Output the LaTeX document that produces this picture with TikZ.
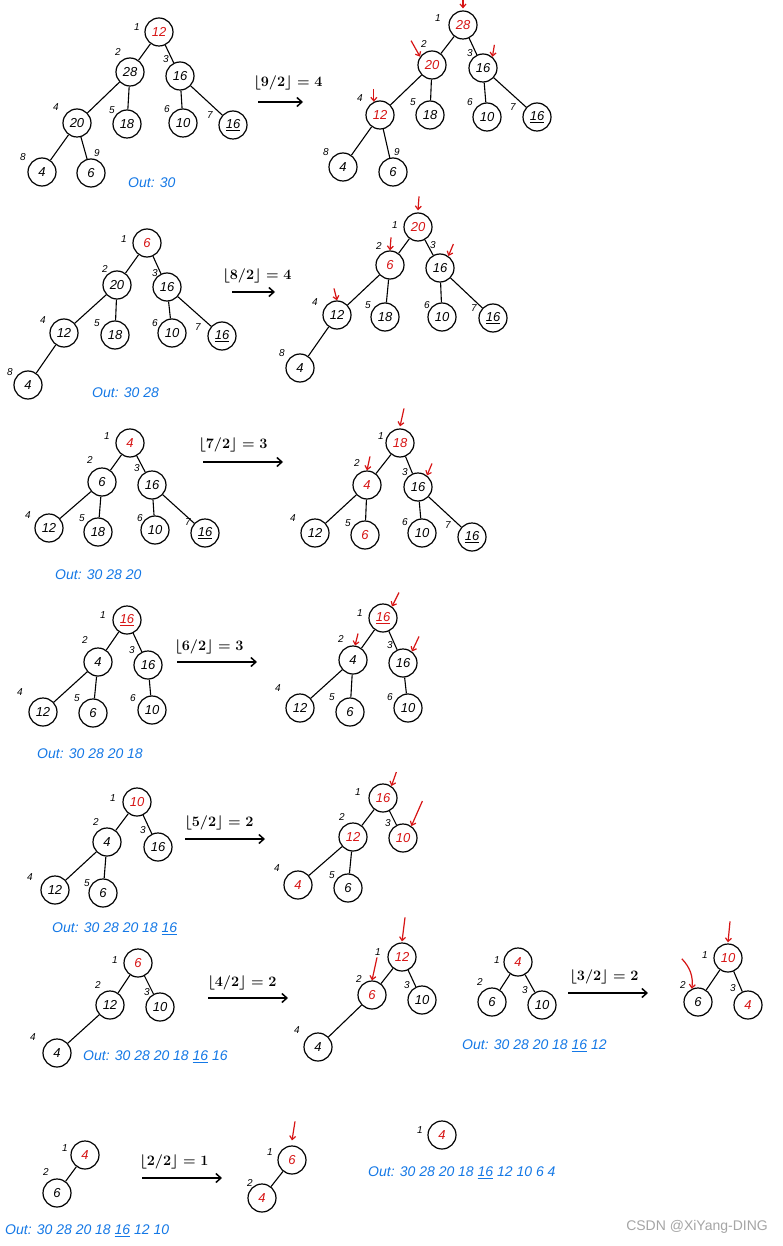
\documentclass[tikz,border=0pt]{standalone}
\usepackage{fontspec}
\setmainfont{Liberation Sans}
\usetikzlibrary{arrows.meta}
\definecolor{hred}{RGB}{215,20,20}
\definecolor{hblue}{RGB}{20,120,230}
\definecolor{wm}{RGB}{165,165,165}
\newcommand{\nfont}{\fontsize{13}{13}\selectfont\itshape}
\newcommand{\ifont}{\fontsize{10}{10}\selectfont\itshape}
\newcommand{\ofont}{\fontsize{14}{14}\selectfont\itshape}
\newcommand{\lfont}{\fontsize{14}{14}\selectfont\boldmath}
\newcommand{\uu}[1]{\underline{#1}}
\tikzset{
  nd/.style={circle, draw, line width=1.2pt, minimum size=28pt, inner sep=0pt, font=\nfont},
  rn/.style={nd, text=hred},
  ix/.style={font=\ifont, inner sep=0pt},
  edge/.style={line width=1.1pt},
  stp/.style={-{Straight Barb[length=5pt,width=9pt]}, line width=1.5pt},
  ra/.style={-{Straight Barb[length=3.5pt,width=6pt]}, hred, line width=1.2pt},
  outt/.style={text=hblue, font=\ofont, anchor=west, inner sep=0pt},
  lbl/.style={font=\lfont, inner sep=0pt}
}
\begin{document}
\begin{tikzpicture}[x=1pt,y=-1pt]
\useasboundingbox (0,0) rectangle (783,1246);
\fill[white] (0,0) rectangle (783,1246);

% ===== Row 1 left =====
\node[rn] (a1) at (159,32) {12};
\node[nd] (a2) at (130,72) {28};
\node[nd] (a3) at (180,76) {16};
\node[nd] (a4) at (77,123) {20};
\node[nd] (a5) at (127,124) {18};
\node[nd] (a6) at (183,123) {10};
\node[nd] (a7) at (233,125) {\uu{16}};
\node[nd] (a8) at (42,172) {4};
\node[nd] (a9) at (91,173) {6};
\foreach \p/\c in {a1/a2,a1/a3,a2/a4,a2/a5,a3/a6,a3/a7,a4/a8,a4/a9} \draw[edge] (\p) -- (\c);
\node[ix] (ai1) at (137,27) {1};
\node[ix] (ai2) at (118,52) {2};
\node[ix] (ai3) at (166,59) {3};
\node[ix] (ai4) at (56,107) {4};
\node[ix] (ai5) at (112,110) {5};
\node[ix] (ai6) at (167,109) {6};
\node[ix] (ai7) at (210,115) {7};
\node[ix] (ai8) at (23,157) {8};
\node[ix] (ai9) at (97,153) {9};
\node[outt] (ao) at (128,183) {Out: 30};
\coordinate (s1a) at (258,102); \coordinate (s1b) at (303,102);
\draw[stp] (s1a) -- (s1b);
\node[lbl] (s1l) at (288,83) {$\lfloor 9/2\rfloor = 4$};

% ===== Row 1 right =====
\node[rn] (b1) at (463,25) {28};
\node[rn] (b2) at (432,65) {20};
\node[nd] (b3) at (483,68) {16};
\node[rn] (b4) at (380,115) {12};
\node[nd] (b5) at (430,115) {18};
\node[nd] (b6) at (487,117) {10};
\node[nd] (b7) at (537,117) {\uu{16}};
\node[nd] (b8) at (343,167) {4};
\node[nd] (b9) at (393,172) {6};
\foreach \p/\c in {b1/b2,b1/b3,b2/b4,b2/b5,b3/b6,b3/b7,b4/b8,b4/b9} \draw[edge] (\p) -- (\c);
\node[ix] (bi1) at (438,18) {1};
\node[ix] (bi2) at (424,44) {2};
\node[ix] (bi3) at (470,53) {3};
\node[ix] (bi4) at (360,98) {4};
\node[ix] (bi5) at (413,102) {5};
\node[ix] (bi6) at (470,102) {6};
\node[ix] (bi7) at (513,107) {7};
\node[ix] (bi8) at (326,152) {8};
\node[ix] (bi9) at (397,152) {9};
\draw[ra] ([yshift=14pt]b1.north) -- ([yshift=2pt]b1.north);
\draw[ra] ([shift={(-9pt,16pt)}]b2.145) -- (b2.145);
\draw[ra] ([shift={(2pt,12pt)}]b3.50) -- (b3.50);
\draw[ra] ([shift={(0pt,13pt)}]b4.115) -- (b4.115);

% ===== Row 2 left =====
\node[rn] (c1) at (147,243) {6};
\node[nd] (c2) at (117,285) {20};
\node[nd] (c3) at (167,287) {16};
\node[nd] (c4) at (64,333) {12};
\node[nd] (c5) at (115,335) {18};
\node[nd] (c6) at (172,333) {10};
\node[nd] (c7) at (222,336) {\uu{16}};
\node[nd] (c8) at (28,385) {4};
\foreach \p/\c in {c1/c2,c1/c3,c2/c4,c2/c5,c3/c6,c3/c7,c4/c8} \draw[edge] (\p) -- (\c);
\node[ix] (ci1) at (124,239) {1};
\node[ix] (ci2) at (105,269) {2};
\node[ix] (ci3) at (155,273) {3};
\node[ix] (ci4) at (43,320) {4};
\node[ix] (ci5) at (97,323) {5};
\node[ix] (ci6) at (155,323) {6};
\node[ix] (ci7) at (198,327) {7};
\node[ix] (ci8) at (10,372) {8};
\node[outt] (co) at (92,393) {Out: 30 28};
\coordinate (s2a) at (232,292); \coordinate (s2b) at (275,292);
\draw[stp] (s2a) -- (s2b);
\node[lbl] (s2l) at (257,276) {$\lfloor 8/2\rfloor = 4$};

% ===== Row 2 right =====
\node[rn] (d1) at (418,227) {20};
\node[rn] (d2) at (390,265) {6};
\node[nd] (d3) at (440,268) {16};
\node[nd] (d4) at (337,315) {12};
\node[nd] (d5) at (385,317) {18};
\node[nd] (d6) at (442,317) {10};
\node[nd] (d7) at (493,318) {\uu{16}};
\node[nd] (d8) at (300,368) {4};
\foreach \p/\c in {d1/d2,d1/d3,d2/d4,d2/d5,d3/d6,d3/d7,d4/d8} \draw[edge] (\p) -- (\c);
\node[ix] (di1) at (395,225) {1};
\node[ix] (di2) at (379,246) {2};
\node[ix] (di3) at (433,245) {3};
\node[ix] (di4) at (315,302) {4};
\node[ix] (di5) at (368,305) {5};
\node[ix] (di6) at (427,305) {6};
\node[ix] (di7) at (474,308) {7};
\node[ix] (di8) at (282,353) {8};
\draw[ra] ([shift={(1pt,16pt)}]d1.north) -- ([yshift=2pt]d1.north);
\draw[ra] ([shift={(1pt,13pt)}]d2.north) -- (d2.north);
\draw[ra] ([shift={(5pt,12pt)}]d3.55) -- (d3.55);
\draw[ra] ([shift={(-3pt,12pt)}]d4.north) -- (d4.north);

% ===== Row 3 left =====
\node[rn] (e1) at (130,443) {4};
\node[nd] (e2) at (102,482) {6};
\node[nd] (e3) at (152,485) {16};
\node[nd] (e4) at (49,528) {12};
\node[nd] (e5) at (98,532) {18};
\node[nd] (e6) at (155,530) {10};
\node[nd] (e7) at (205,533) {\uu{16}};
\foreach \p/\c in {e1/e2,e1/e3,e2/e4,e2/e5,e3/e6,e3/e7} \draw[edge] (\p) -- (\c);
\node[ix] (ei1) at (107,436) {1};
\node[ix] (ei2) at (90,460) {2};
\node[ix] (ei3) at (137,468) {3};
\node[ix] (ei4) at (28,515) {4};
\node[ix] (ei5) at (82,518) {5};
\node[ix] (ei6) at (140,518) {6};
\node[ix] (ei7) at (188,522) {7};
\node[outt] (eo) at (55,575) {Out: 30 28 20};
\coordinate (s3a) at (203,462); \coordinate (s3b) at (283,462);
\draw[stp] (s3a) -- (s3b);
\node[lbl] (s3l) at (233,445) {$\lfloor 7/2\rfloor = 3$};

% ===== Row 3 right =====
\node[rn] (f1) at (400,443) {18};
\node[rn] (f2) at (367,485) {4};
\node[nd] (f3) at (418,487) {16};
\node[nd] (f4) at (315,533) {12};
\node[rn] (f5) at (365,535) {6};
\node[nd] (f6) at (422,533) {10};
\node[nd] (f7) at (472,537) {\uu{16}};
\foreach \p/\c in {f1/f2,f1/f3,f2/f4,f2/f5,f3/f6,f3/f7} \draw[edge] (\p) -- (\c);
\node[ix] (fi1) at (381,436) {1};
\node[ix] (fi2) at (357,463) {2};
\node[ix] (fi3) at (405,472) {3};
\node[ix] (fi4) at (293,518) {4};
\node[ix] (fi5) at (348,523) {5};
\node[ix] (fi6) at (405,522) {6};
\node[ix] (fi7) at (448,525) {7};
\draw[ra] ([shift={(4pt,20pt)}]f1.north) -- ([yshift=2pt]f1.north);
\draw[ra] ([shift={(3pt,14pt)}]f2.north) -- (f2.north);
\draw[ra] ([shift={(5pt,12pt)}]f3.52) -- (f3.52);

% ===== Row 4 left =====
\node[rn] (g1) at (127,620) {\uu{16}};
\node[nd] (g2) at (98,662) {4};
\node[nd] (g3) at (148,665) {16};
\node[nd] (g4) at (43,712) {12};
\node[nd] (g5) at (93,713) {6};
\node[nd] (g6) at (152,710) {10};
\foreach \p/\c in {g1/g2,g1/g3,g2/g4,g2/g5,g3/g6} \draw[edge] (\p) -- (\c);
\node[ix] (gi1) at (103,615) {1};
\node[ix] (gi2) at (85,640) {2};
\node[ix] (gi3) at (132,650) {3};
\node[ix] (gi4) at (20,692) {4};
\node[ix] (gi5) at (77,698) {5};
\node[ix] (gi6) at (133,698) {6};
\node[outt] (go) at (37,754) {Out: 30 28 20 18};
\coordinate (s4a) at (177,662); \coordinate (s4b) at (257,662);
\draw[stp] (s4a) -- (s4b);
\node[lbl] (s4l) at (209,647) {$\lfloor 6/2\rfloor = 3$};

% ===== Row 4 right =====
\node[rn] (h1) at (383,618) {\uu{16}};
\node[nd] (h2) at (353,660) {4};
\node[nd] (h3) at (403,663) {16};
\node[nd] (h4) at (300,708) {12};
\node[nd] (h5) at (350,712) {6};
\node[nd] (h6) at (408,708) {10};
\foreach \p/\c in {h1/h2,h1/h3,h2/h4,h2/h5,h3/h6} \draw[edge] (\p) -- (\c);
\node[ix] (hi1) at (360,613) {1};
\node[ix] (hi2) at (341,639) {2};
\node[ix] (hi3) at (390,645) {3};
\node[ix] (hi4) at (278,688) {4};
\node[ix] (hi5) at (332,697) {5};
\node[ix] (hi6) at (390,697) {6};
\draw[ra] ([shift={(7pt,14pt)}]h1.52) -- (h1.52);
\draw[ra] ([shift={(3pt,12pt)}]h2.82) -- (h2.82);
\draw[ra] ([shift={(7pt,15pt)}]h3.52) -- (h3.52);

% ===== Row 5 left =====
\node[rn] (i1) at (137,802) {10};
\node[nd] (i2) at (107,842) {4};
\node[nd] (i3) at (158,847) {16};
\node[nd] (i4) at (55,890) {12};
\node[nd] (i5) at (103,893) {6};
\foreach \p/\c in {i1/i2,i1/i3,i2/i4,i2/i5} \draw[edge] (\p) -- (\c);
\node[ix] (ii1) at (113,798) {1};
\node[ix] (ii2) at (96,822) {2};
\node[ix] (ii3) at (143,830) {3};
\node[ix] (ii4) at (30,877) {4};
\node[ix] (ii5) at (87,883) {5};
\node[outt] (io) at (52,929) {Out: 30 28 20 18 \uu{16}};
\coordinate (s5a) at (185,839); \coordinate (s5b) at (265,839);
\draw[stp] (s5a) -- (s5b);
\node[lbl] (s5l) at (219,823) {$\lfloor 5/2\rfloor = 2$};

% ===== Row 5 right =====
\node[rn] (j1) at (383,798) {16};
\node[rn] (j2) at (353,837) {12};
\node[rn] (j3) at (403,838) {10};
\node[rn] (j4) at (298,885) {4};
\node[nd] (j5) at (348,888) {6};
\foreach \p/\c in {j1/j2,j1/j3,j2/j4,j2/j5} \draw[edge] (\p) -- (\c);
\node[ix] (ji1) at (358,792) {1};
\node[ix] (ji2) at (342,817) {2};
\node[ix] (ji3) at (388,823) {3};
\node[ix] (ji4) at (277,868) {4};
\node[ix] (ji5) at (332,875) {5};
\draw[ra] ([shift={(5pt,14pt)}]j1.55) -- (j1.55);
\draw[ra] ([shift={(11pt,25pt)}]j3.55) -- (j3.55);

% ===== Row 6 left =====
\node[rn] (k1) at (138,963) {6};
\node[nd] (k2) at (110,1005) {12};
\node[nd] (k3) at (160,1007) {10};
\node[nd] (k4) at (57,1053) {4};
\foreach \p/\c in {k1/k2,k1/k3,k2/k4} \draw[edge] (\p) -- (\c);
\node[ix] (ki1) at (115,960) {1};
\node[ix] (ki2) at (98,985) {2};
\node[ix] (ki3) at (147,992) {3};
\node[ix] (ki4) at (33,1037) {4};
\node[outt] (ko) at (83,1057) {Out: 30 28 20 18 \uu{16} 16};
\coordinate (s6a) at (208,998); \coordinate (s6b) at (288,998);
\draw[stp] (s6a) -- (s6b);
\node[lbl] (s6l) at (242,983) {$\lfloor 4/2\rfloor = 2$};

% ===== Row 6 middle =====
\node[rn] (l1) at (402,957) {12};
\node[rn] (l2) at (372,995) {6};
\node[nd] (l3) at (422,1000) {10};
\node[nd] (l4) at (318,1047) {4};
\foreach \p/\c in {l1/l2,l1/l3,l2/l4} \draw[edge] (\p) -- (\c);
\node[ix] (li1) at (378,952) {1};
\node[ix] (li2) at (359,979) {2};
\node[ix] (li3) at (407,985) {3};
\node[ix] (li4) at (297,1030) {4};
\draw[ra] ([shift={(3pt,25pt)}]l1.north) -- ([yshift=1pt]l1.north);
\draw[ra] ([shift={(5pt,23pt)}]l2.north) -- (l2.north);

% ===== Row 6 right =====
\node[rn] (m1) at (518,962) {4};
\node[nd] (m2) at (492,1002) {6};
\node[nd] (m3) at (542,1005) {10};
\foreach \p/\c in {m1/m2,m1/m3} \draw[edge] (\p) -- (\c);
\node[ix] (mi1) at (497,960) {1};
\node[ix] (mi2) at (480,982) {2};
\node[ix] (mi3) at (525,990) {3};
\node[outt] (mo) at (462,1046) {Out: 30 28 20 18 \uu{16} 12};
\coordinate (s7a) at (568,993); \coordinate (s7b) at (648,993);
\draw[stp] (s7a) -- (s7b);
\node[lbl] (s7l) at (604,977) {$\lfloor 3/2\rfloor = 2$};

\node[rn] (n1) at (728,958) {10};
\node[nd] (n2) at (698,1002) {6};
\node[rn] (n3) at (748,1005) {4};
\foreach \p/\c in {n1/n2,n1/n3} \draw[edge] (\p) -- (\c);
\node[ix] (ni1) at (705,955) {1};
\node[ix] (ni2) at (683,985) {2};
\node[ix] (ni3) at (733,988) {3};
\draw[ra] ([shift={(2pt,22pt)}]n1.north) -- ([yshift=1pt]n1.north);
\draw[ra] ([shift={(-10pt,30pt)}]n2.115) to[bend left=25] (n2.115);

% ===== Row 7 =====
\node[rn] (o1) at (85,1155) {4};
\node[nd] (o2) at (57,1193) {6};
\draw[edge] (o1) -- (o2);
\node[ix] (oi1) at (65,1148) {1};
\node[ix] (oi2) at (46,1172) {2};
\node[outt] (oo) at (5,1231) {Out: 30 28 20 18 \uu{16} 12 10};
\coordinate (s8a) at (142,1178); \coordinate (s8b) at (222,1178);
\draw[stp] (s8a) -- (s8b);
\node[lbl] (s8l) at (174,1162) {$\lfloor 2/2\rfloor = 1$};

\node[rn] (p1) at (292,1160) {6};
\node[rn] (p2) at (262,1198) {4};
\draw[edge] (p1) -- (p2);
\node[ix] (pi1) at (270,1152) {1};
\node[ix] (pi2) at (250,1183) {2};
\draw[ra] ([shift={(3pt,24pt)}]p1.north) -- ([yshift=5pt]p1.north);

\node[rn] (q1) at (442,1135) {4};
\node[ix] (qi1) at (420,1130) {1};
\node[outt] (qo) at (368,1173) {Out: 30 28 20 18 \uu{16} 12 10 6 4};

\node[text=wm, font=\fontsize{14}{14}\selectfont, anchor=east, inner sep=0pt] (wmk) at (768,1227) {CSDN @XiYang-DING};
\end{tikzpicture}
\end{document}
